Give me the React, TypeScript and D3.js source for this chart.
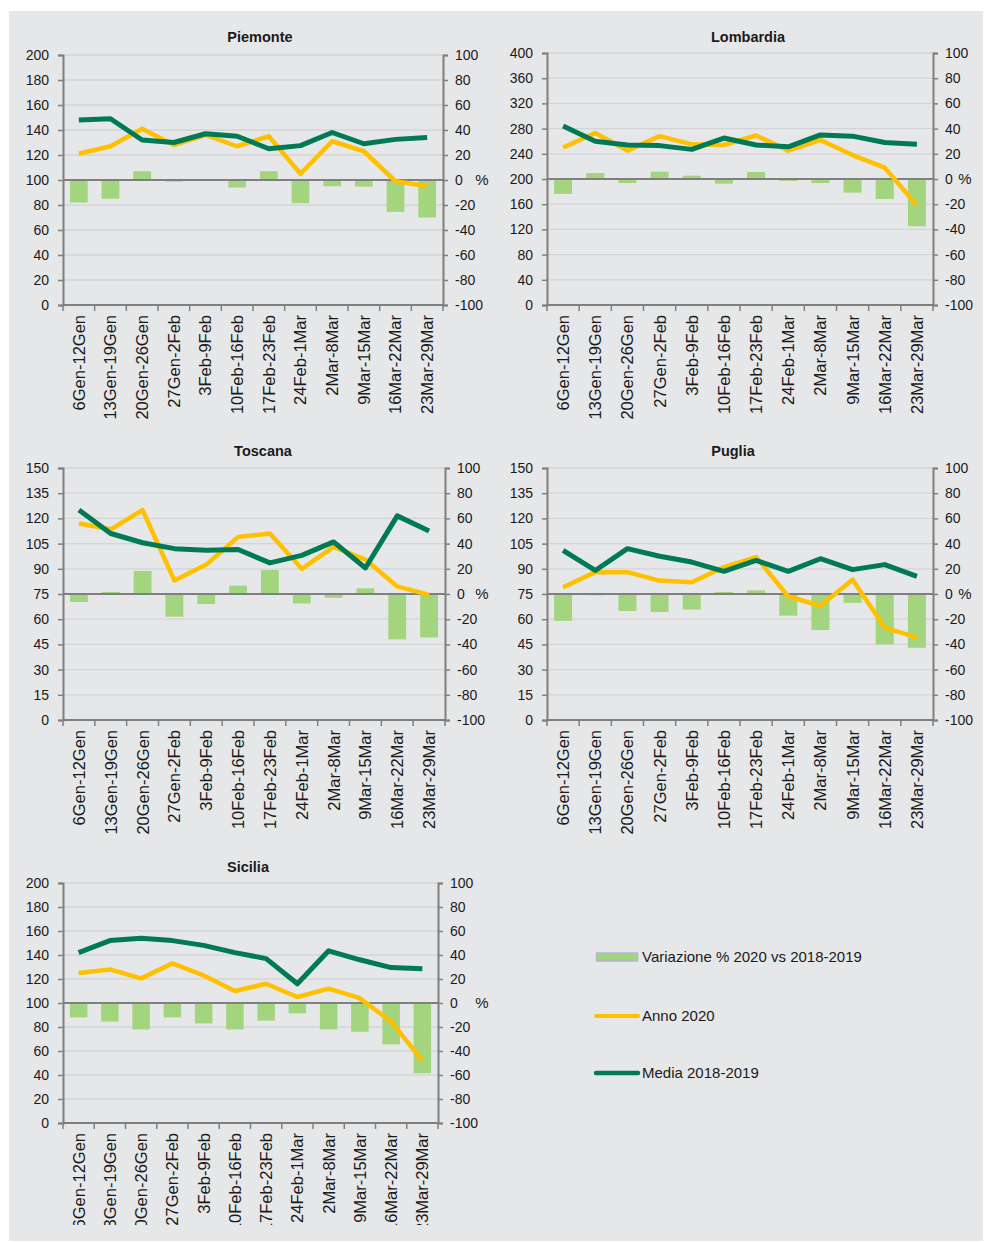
import React from "react";
import * as d3 from "d3";

// week categories shared by all panels
const weeks = [
  "6Gen-12Gen",
  "13Gen-19Gen",
  "20Gen-26Gen",
  "27Gen-2Feb",
  "3Feb-9Feb",
  "10Feb-16Feb",
  "17Feb-23Feb",
  "24Feb-1Mar",
  "2Mar-8Mar",
  "9Mar-15Mar",
  "16Mar-22Mar",
  "23Mar-29Mar",
];

const regions = ["Piemonte", "Lombardia", "Toscana", "Puglia", "Sicilia"];

// Anno 2020
const anno2020Piemonte = [121, 127, 141, 128, 136, 127, 135, 105, 131, 123, 99, 95];
const anno2020Lombardia = [250, 273, 245, 268, 255, 254, 269, 245, 262, 238, 218, 158];
const anno2020Toscana = [117, 113.5, 125, 83, 92.5, 109, 111, 90, 103, 95.5, 79.5, 74.5];
const anno2020Puglia = [79, 88, 88, 83, 82, 91, 97, 73.5, 68, 83.5, 55, 49];
const anno2020Sicilia = [125, 128, 120.5, 133, 123, 110, 116, 105, 112, 104, 84.5, 52];

// Media 2018-2019
const mediaPiemonte = [148, 149, 132, 130, 137, 135, 125, 127.5, 138, 129, 132.5, 134];
const mediaLombardia = [284, 260, 254, 253, 247, 265, 254, 251, 270, 268, 258, 255];
const mediaToscana = [125, 111, 105.5, 102, 101, 101.5, 93.5, 98, 106, 90.5, 121.5, 112.5];
const mediaPuglia = [101, 89, 102, 97.5, 94, 88.5, 95, 88.5, 96, 89.5, 92.5, 85.5];
const mediaSicilia = [142, 152, 154, 152, 148, 142, 137, 116, 143.5, 136, 129.5, 128.5];

// Variazione % 2020 vs 2018-2019
const varPiemonte = [-18, -15, 7, -1.3, -0.4, -6, 7, -18.5, -5, -5.3, -25.5, -30];
const varLombardia = [-11.8, 4.7, -3.2, 5.8, 2.6, -3.7, 5.5, -1.5, -3.2, -10.8, -15.8, -37.5];
const varToscana = [-6.3, 1.6, 18.3, -18, -8, 6.6, 19, -7.5, -3, 4.5, -36, -34.5];
const varPuglia = [-21.3, -1, -13.5, -14.3, -12.3, 1.6, 2.9, -17.2, -28.6, -7, -40, -42.7];
const varSicilia = [-12, -15.5, -22, -12, -17, -22, -14.7, -8.6, -22, -24, -34.5, -58.5];

const leftMax = [200, 400, 150, 150, 200];
const leftStep = [20, 40, 15, 15, 20];
const rightTicks = [-100, -80, -60, -40, -20, 0, 20, 40, 60, 80, 100];

const legendLabels = ["Variazione % 2020 vs 2018-2019", "Anno 2020", "Media 2018-2019"];

const annoSeries = [anno2020Piemonte, anno2020Lombardia, anno2020Toscana, anno2020Puglia, anno2020Sicilia];
const mediaSeries = [mediaPiemonte, mediaLombardia, mediaToscana, mediaPuglia, mediaSicilia];
const varSeries = [varPiemonte, varLombardia, varToscana, varPuglia, varSicilia];

// panel boxes (layout)
const boxes = [
  { l: 63, r: 443, t: 55, b: 305, tx: 260, ty: 37, px: 482, clip: null },
  { l: 547, r: 933, t: 53, b: 305, tx: 748, ty: 37, px: 965, clip: null },
  { l: 63, r: 445, t: 468, b: 720, tx: 263, ty: 451, px: 482, clip: null },
  { l: 547, r: 933, t: 468, b: 720, tx: 733, ty: 451, px: 965, clip: null },
  { l: 63, r: 438, t: 883, b: 1123, tx: 248, ty: 867, px: 482, clip: 1225 },
];

const W = 984;
const H = 1243;
const FONT = "'Liberation Sans', Arial, sans-serif";
const TEXT = "#1a1a1a";
const AXIS = "#7f7f7f";
const GRID = "#d3d4d6";
const BAR = "#a3d47e";
const YELLOW = "#ffc000";
const GREEN = "#007a55";

const App = () => {
  const svg = React.useRef(null);

  React.useEffect(() => {
    d3.select(svg.current).selectAll("*").remove();
    drawChart(svg);
  }, [svg]);

  return (
    <div>
      <svg
        ref={svg}
        width={W}
        height={H}
        style={{ position: "absolute", left: 0, top: 0, background: "#fff" }}
      />
    </div>
  );
};

function drawChart(svgRef) {
  const svg = d3.select(svgRef.current);

  svg
    .append("rect")
    .attr("x", 9)
    .attr("y", 11)
    .attr("width", 974)
    .attr("height", 1230)
    .attr("fill", "#e6e7e9");

  regions.forEach((name, i) => {
    const box = boxes[i];
    const g = svg.append("g");

    const x = d3.scaleBand().domain(weeks).range([box.l, box.r]);
    const yL = d3.scaleLinear().domain([0, leftMax[i]]).range([box.b, box.t]);
    const yR = d3.scaleLinear().domain([-100, 100]).range([box.b, box.t]);
    const leftTicks = d3.range(0, leftMax[i] + 0.001, leftStep[i]);

    // title
    g.append("text")
      .attr("x", box.tx)
      .attr("y", box.ty)
      .attr("dy", "0.35em")
      .attr("text-anchor", "middle")
      .attr("font-family", FONT)
      .attr("font-size", 14.5)
      .attr("font-weight", "bold")
      .attr("fill", TEXT)
      .text(name);

    // grid lines
    g.selectAll(".grid")
      .data(leftTicks.filter((d) => d > 0))
      .enter()
      .append("line")
      .attr("x1", box.l)
      .attr("x2", box.r)
      .attr("y1", (d) => yL(d))
      .attr("y2", (d) => yL(d))
      .attr("stroke", GRID)
      .attr("stroke-width", 1.3);

    // bars
    const bw = x.bandwidth() * 0.56;
    g.selectAll(".bar")
      .data(varSeries[i])
      .enter()
      .append("rect")
      .attr("x", (d, j) => x(weeks[j]) + (x.bandwidth() - bw) / 2)
      .attr("y", (d) => Math.min(yR(d), yR(0)))
      .attr("width", bw)
      .attr("height", (d) => Math.abs(yR(d) - yR(0)))
      .attr("fill", BAR);

    // zero % line
    g.append("line")
      .attr("x1", box.l)
      .attr("x2", box.r)
      .attr("y1", yR(0))
      .attr("y2", yR(0))
      .attr("stroke", AXIS)
      .attr("stroke-width", 2);

    // left axis
    const axL = g
      .append("g")
      .attr("transform", "translate(" + box.l + ",0)")
      .call(d3.axisLeft(yL).tickValues(leftTicks).tickSize(5).tickPadding(9).tickFormat((d) => String(d)));
    axL.select(".domain").attr("stroke", AXIS).attr("stroke-width", 2);
    axL.selectAll(".tick line").attr("stroke", AXIS).attr("stroke-width", 1.5);
    axL
      .selectAll("text")
      .attr("font-family", FONT)
      .attr("font-size", 14)
      .attr("fill", TEXT);

    // right axis
    const axR = g
      .append("g")
      .attr("transform", "translate(" + box.r + ",0)")
      .call(d3.axisRight(yR).tickValues(rightTicks).tickSize(5).tickPadding(7).tickFormat((d) => String(d)));
    axR.select(".domain").attr("stroke", AXIS).attr("stroke-width", 2);
    axR.selectAll(".tick line").attr("stroke", AXIS).attr("stroke-width", 1.5);
    axR
      .selectAll("text")
      .attr("font-family", FONT)
      .attr("font-size", 14)
      .attr("fill", TEXT);

    g.append("text")
      .attr("x", box.px)
      .attr("y", yR(0))
      .attr("dy", "0.35em")
      .attr("text-anchor", "middle")
      .attr("font-family", FONT)
      .attr("font-size", 15)
      .attr("fill", TEXT)
      .text("%");

    // bottom axis
    g.append("line")
      .attr("x1", box.l)
      .attr("x2", box.r)
      .attr("y1", box.b)
      .attr("y2", box.b)
      .attr("stroke", AXIS)
      .attr("stroke-width", 2);
    g.selectAll(".xtick")
      .data(d3.range(weeks.length + 1))
      .enter()
      .append("line")
      .attr("x1", (j) => box.l + j * x.step())
      .attr("x2", (j) => box.l + j * x.step())
      .attr("y1", box.b)
      .attr("y2", box.b + 6)
      .attr("stroke", AXIS)
      .attr("stroke-width", 1.5);

    let labelsG = g.append("g");
    if (box.clip) {
      const id = "clip" + i;
      svg
        .append("clipPath")
        .attr("id", id)
        .append("rect")
        .attr("x", box.l - 20)
        .attr("y", box.b)
        .attr("width", box.r - box.l + 40)
        .attr("height", box.clip - box.b);
      labelsG.attr("clip-path", "url(#" + id + ")");
    }
    labelsG
      .selectAll(".xlab")
      .data(weeks)
      .enter()
      .append("text")
      .attr(
        "transform",
        (d) => "translate(" + (x(d) + x.bandwidth() / 2) + "," + (box.b + 10) + ") rotate(-90)"
      )
      .attr("dy", "0.36em")
      .attr("text-anchor", "end")
      .attr("font-family", FONT)
      .attr("font-size", 16.5)
      .attr("fill", TEXT)
      .text((d) => d);

    // lines
    const line = d3
      .line()
      .x((d, j) => x(weeks[j]) + x.bandwidth() / 2)
      .y((d) => yL(d));

    g.append("path")
      .datum(annoSeries[i])
      .attr("fill", "none")
      .attr("stroke", YELLOW)
      .attr("stroke-width", 4.5)
      .attr("stroke-linejoin", "round")
      .attr("d", line);

    g.append("path")
      .datum(mediaSeries[i])
      .attr("fill", "none")
      .attr("stroke", GREEN)
      .attr("stroke-width", 5)
      .attr("stroke-linejoin", "round")
      .attr("d", line);
  });

  // legend
  const lg = svg.append("g").attr("transform", "translate(596,0)");
  const legendY = [957, 1016, 1073];
  lg.append("rect")
    .attr("x", 0.5)
    .attr("y", legendY[0] - 4)
    .attr("width", 41)
    .attr("height", 8)
    .attr("fill", BAR)
    .attr("stroke", "#b3b6d6")
    .attr("stroke-width", 1.5);
  lg.append("line")
    .attr("x1", 0)
    .attr("x2", 42)
    .attr("y1", legendY[1])
    .attr("y2", legendY[1])
    .attr("stroke", YELLOW)
    .attr("stroke-width", 4)
    .attr("stroke-linecap", "round");
  lg.append("line")
    .attr("x1", 0)
    .attr("x2", 42)
    .attr("y1", legendY[2])
    .attr("y2", legendY[2])
    .attr("stroke", GREEN)
    .attr("stroke-width", 4.5)
    .attr("stroke-linecap", "round");
  lg.selectAll(".ltext")
    .data(legendLabels)
    .enter()
    .append("text")
    .attr("x", 46)
    .attr("y", (d, k) => legendY[k])
    .attr("dy", "0.35em")
    .attr("font-family", FONT)
    .attr("font-size", 15)
    .attr("fill", TEXT)
    .text((d) => d);
}

export default App;
